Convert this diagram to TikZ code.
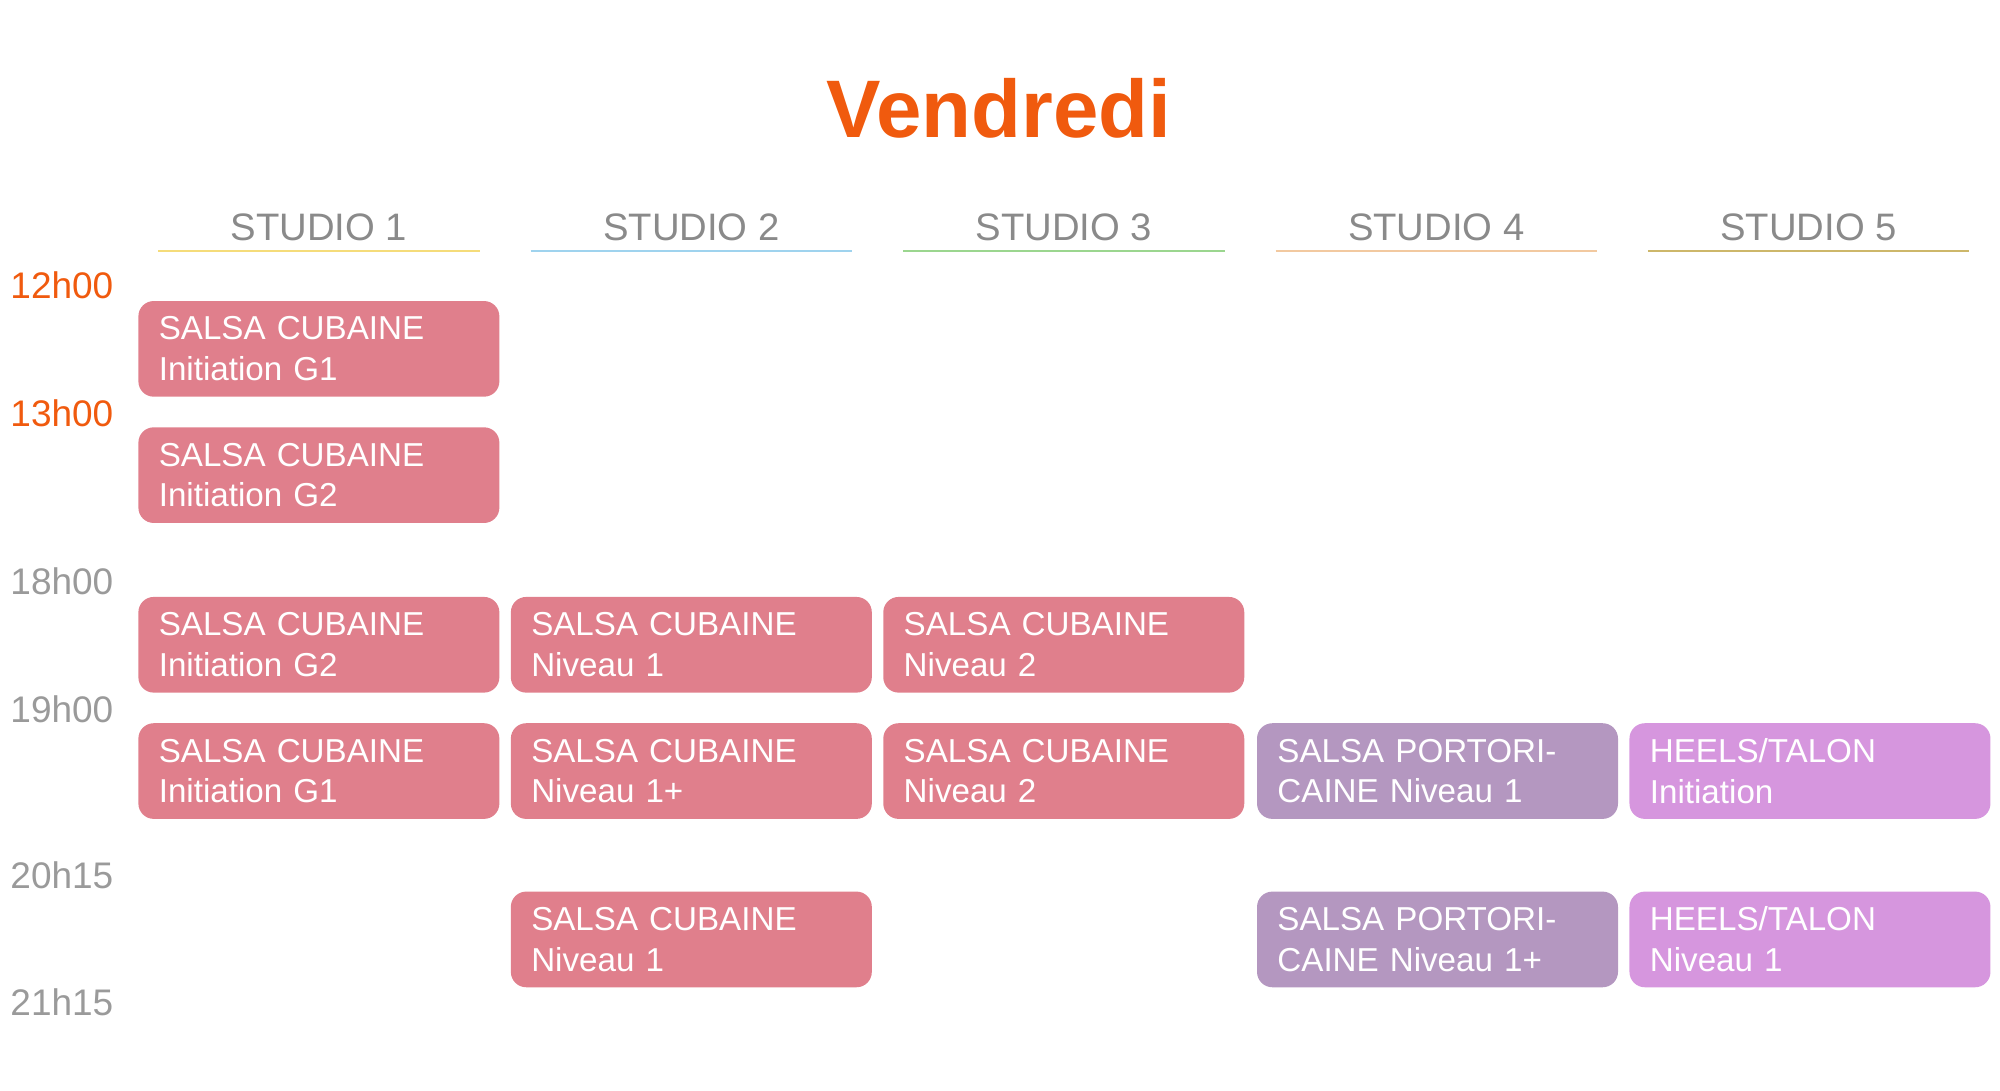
\documentclass[tikz,border=0pt]{standalone}
\usepackage{fontspec}
\setmainfont{Liberation Sans}
\definecolor{pinkb}{HTML}{E07F8C}
\definecolor{purpb}{HTML}{B497C0}
\definecolor{violb}{HTML}{D696DE}
\definecolor{orng}{HTML}{F05A0E}
\definecolor{tgray}{HTML}{9A9A9A}
\definecolor{hgray}{HTML}{8A8A8A}
\begin{document}
\begin{tikzpicture}[x=1pt,y=-1pt,
  box/.style={rounded corners=12pt,minimum width=283pt,minimum height=75pt,inner sep=0pt,draw=none,text=white,
     font=\fontsize{26}{32}\selectfont,align=left,text width=251pt},
  pk/.style={box,fill=pinkb},
  pu/.style={box,fill=purpb},
  vi/.style={box,fill=violb},
  hdr/.style={font=\fontsize{30}{34}\selectfont,text=hgray},
  tm/.style={font=\fontsize{29}{34}\selectfont,anchor=west,inner sep=0pt},
  ul/.style={line width=1.5pt}]
\useasboundingbox (0,0) rectangle (1568,855);
\node[font=\fontsize{64}{70}\selectfont\bfseries,text=orng] (title) at (783,85) {Vendredi};
\foreach \i/\c/\x in {1/F5DC7A/250,2/9FD3EE/542,3/9BD68F/834,4/F2C9A0/1126,5/CDB76A/1418}{
  \node[hdr] (h\i) at (\x,178) {STUDIO \i};
  \definecolor{uc}{HTML}{\c}
  \draw[ul,uc] (\x-126,197) -- (\x+126,197);
}
\node[tm,text=orng] (t1) at (8,224) {12h00};
\node[tm,text=orng] (t2) at (8,324) {13h00};
\node[tm,text=tgray] (t3) at (8,456) {18h00};
\node[tm,text=tgray] (t4) at (8,556) {19h00};
\node[tm,text=tgray] (t5) at (8,686) {20h15};
\node[tm,text=tgray] (t6) at (8,786) {21h15};
\node[pk] (b11) at (250,273.5) {SALSA CUBAINE\\Initiation G1};
\node[pk] (b21) at (250,372.5) {SALSA CUBAINE\\Initiation G2};
\node[pk] (b31) at (250,505.5) {SALSA CUBAINE\\Initiation G2};
\node[pk] (b32) at (542,505.5) {SALSA CUBAINE\\Niveau 1};
\node[pk] (b33) at (834,505.5) {SALSA CUBAINE\\Niveau 2};
\node[pk] (b41) at (250,604.5) {SALSA CUBAINE\\Initiation G1};
\node[pk] (b42) at (542,604.5) {SALSA CUBAINE\\Niveau 1+};
\node[pk] (b43) at (834,604.5) {SALSA CUBAINE\\Niveau 2};
\node[pu] (b44) at (1127,604.5) {SALSA PORTORI-\\CAINE Niveau 1};
\node[vi] (b45) at (1419,604.5) {HEELS/TALON\\Initiation};
\node[pk] (b52) at (542,736.5) {SALSA CUBAINE\\Niveau 1};
\node[pu] (b54) at (1127,736.5) {SALSA PORTORI-\\CAINE Niveau 1+};
\node[vi] (b55) at (1419,736.5) {HEELS/TALON\\Niveau 1};
\end{tikzpicture}
\end{document}
